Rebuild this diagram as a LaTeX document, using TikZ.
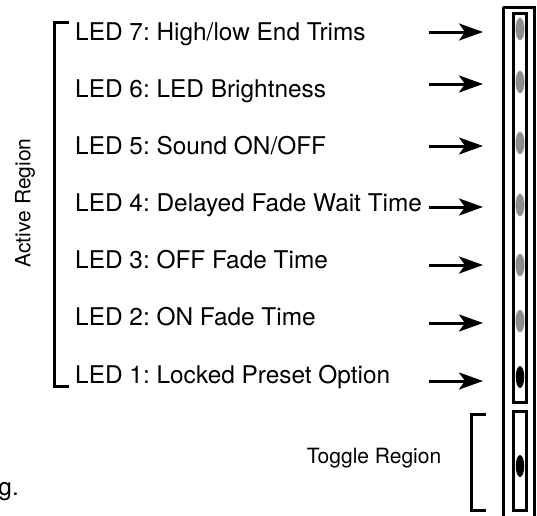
\documentclass[tikz,border=0pt]{standalone}
\usepackage{fontspec}
\setmainfont{TeX Gyre Heros}
\usetikzlibrary{arrows.meta,shapes.geometric}
\frenchspacing
\begin{document}
\begin{tikzpicture}[x=1pt,y=-1pt,
  lbl/.style={anchor=base west,inner sep=0pt,font=\fontsize{24.4}{28}\selectfont},
  rlbl/.style={inner sep=0pt,font=\fontsize{21}{25}\selectfont},
  arr/.style={line width=3pt,-{Stealth[length=24pt,width=17pt,inset=6pt]}},
  brk/.style={line width=3pt},
  frame/.style={line width=3pt},
  ledg/.style={ellipse,minimum width=8.5pt,minimum height=22pt,inner sep=0pt,fill=black!45,draw=black!40,line width=0.5pt},
  ledk/.style={ellipse,minimum width=8.5pt,minimum height=22pt,inner sep=0pt,fill=black},
]
\useasboundingbox (0,0) rectangle (537,515);
% frames
\draw[frame] (503,7) -- (503,520);
\draw[frame] (503,7) -- (534,7) -- (534,520);
\draw[frame] (513,13) rectangle (526,402);
\draw[frame] (513,411) rectangle (526,510);
% labels
\foreach \n/\t/\yb/\ya in {7/{High/low End Trims}/40/32,
  6/{LED Brightness}/97/84,
  5/{Sound ON/OFF}/154/146,
  4/{Delayed Fade Wait Time}/211/207,
  3/{OFF Fade Time}/268/265,
  2/{ON Fade Time}/325/323,
  1/{Locked Preset Option}/383/381}{
  \node[lbl] (t\n) at (75,\yb) {LED \n: \t};
  \coordinate (a\n) at (429,\ya);
  \coordinate (b\n) at (483,\ya);
  \draw[arr] (a\n) -- (b\n);
}
\foreach \n/\yl in {7/29,6/82,5/143,4/205,3/265,2/321}{
  \node[ledg] (l\n) at (520,\yl) {};
}
\node[ledk] (l1) at (520,377) {};
\node[ledk] (lt) at (520,466) {};
% brackets
\draw[brk] (69,22) -- (54,22) -- (54,386) -- (69,386);
\draw[brk] (486,414) -- (471,414) -- (471,510) -- (486,510);
\node[rlbl,rotate=90] (ar) at (25,203) {Active Region};
\node[rlbl] (tr) at (374,458) {Toggle Region};
\node[lbl,anchor=base east] (g) at (19,495) {g.};
\end{tikzpicture}
\end{document}
